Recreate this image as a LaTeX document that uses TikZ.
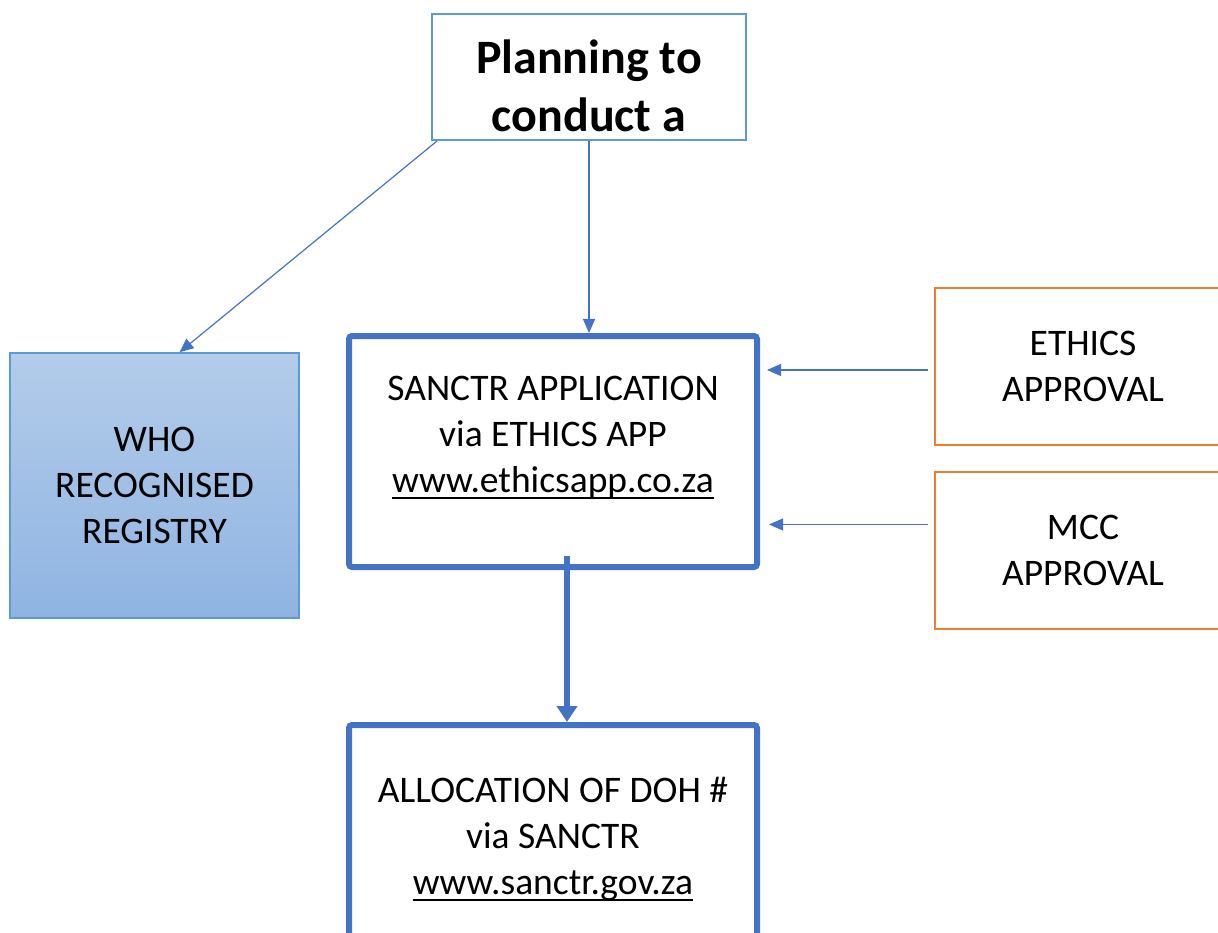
\documentclass[tikz,border=0pt]{standalone}
\usepackage{fontspec}
\setmainfont{Carlito}
\usepackage{xcolor}
\usepackage{tikz}
\usetikzlibrary{arrows.meta,calc,positioning}
\definecolor{accent}{HTML}{4472C4}
\definecolor{lightblue}{HTML}{5B9BD5}
\definecolor{orangeline}{HTML}{ED7D31}
\definecolor{whotop}{HTML}{B3CCEA}
\definecolor{whobot}{HTML}{8FB4E2}
\newcommand{\weblink}[1]{\setbox0\hbox{#1}\rlap{\rule[-6.5pt]{\wd0}{2.5pt}}\box0}

\begin{document}
\begin{tikzpicture}[
  x=1pt, y=-1pt,
  plain/.style={rectangle, draw=lightblue, line width=2pt, align=center, font=\fontsize{48}{58}\selectfont\bfseries},
  registry/.style={rectangle, draw=lightblue, line width=1.5pt, top color=whotop, bottom color=whobot, align=center, font=\fontsize{37.5}{46}\selectfont},
  mainbox/.style={rectangle, draw=accent, line width=6pt, rounded corners=3pt, align=center, font=\fontsize{37.5}{46}\selectfont},
  approval/.style={rectangle, draw=orangeline, line width=2.5pt, align=center, font=\fontsize{37.5}{46}\selectfont},
  thinarrow/.style={-{Triangle[length=14pt,width=12pt]}, accent, line width=1.2pt},
  thickarrow/.style={-{Triangle[length=16pt,width=20pt]}, accent, line width=6pt}
]
\useasboundingbox (0,0) rectangle (1218,933);
\clip (0,0) rectangle (1218,933);

% Top box
\node[plain, minimum width=314pt, minimum height=126pt] (plan) at (589,77) {Planning to\\conduct a\\[-76pt]};

% Left registry
\node[registry, minimum width=289pt, minimum height=265pt] (who) at (154.5,485.5) {WHO\\RECOGNISED\\REGISTRY};

% Main column
\node[mainbox, minimum width=408pt, minimum height=231pt] (sanctr) at (553,451.5) {SANCTR APPLICATION\\via ETHICS APP\\\weblink{www.ethicsapp.co.za}\\[-12pt]};
\node[mainbox, minimum width=408pt, minimum height=300pt] (doh) at (553,875) {ALLOCATION OF DOH \#\\via SANCTR\\\weblink{www.sanctr.gov.za}\\[32pt]};

% Approvals (right column)
\node[approval, minimum width=296pt, minimum height=157pt] (ethics) at (1083,366.5) {ETHICS\\APPROVAL};
\node[approval, minimum width=296pt, minimum height=157pt] (mcc) at (1083,550.5) {MCC\\APPROVAL};

% Arrows
\draw[thinarrow] ([xshift=6pt]plan.south west) -- ([xshift=25pt]who.north);
\draw[thinarrow] (plan.south) -- (plan.south |- sanctr.north);
\draw[thinarrow, shorten <=6pt, shorten >=7pt] ([yshift=-3.5pt]ethics.west) -- ([yshift=-3.5pt]ethics.west -| sanctr.east);
\coordinate (m) at ([yshift=26pt]mcc.west);
\draw[thinarrow, shorten <=6pt, shorten >=9pt] (m) -- (m -| sanctr.east);
\draw[thickarrow] ([xshift=14pt,yshift=14pt]sanctr.south) -- ([xshift=14pt]doh.north);

\end{tikzpicture}
\end{document}
